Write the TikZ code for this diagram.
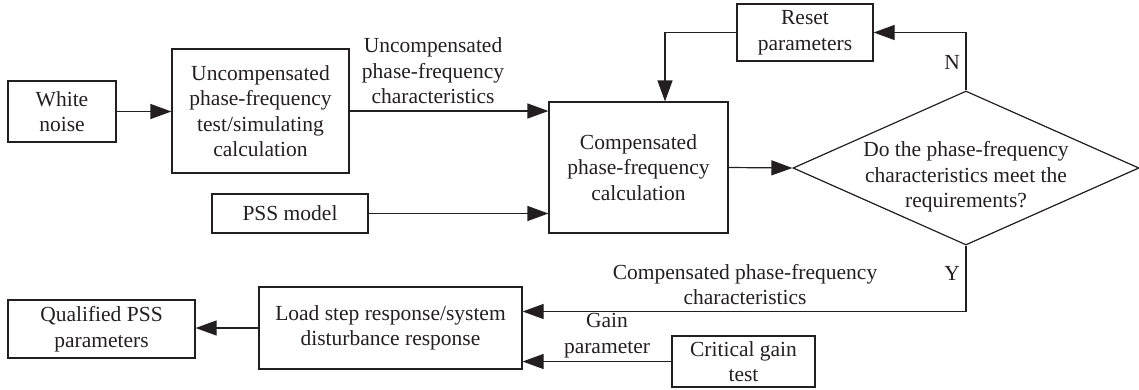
\documentclass[tikz,border=0pt]{standalone}
\usepackage{fontspec}
\setmainfont{Liberation Serif}
\usetikzlibrary{arrows.meta,shapes.geometric}
\definecolor{ink}{HTML}{231F20}
\tikzset{
  base/.style={font=\fontsize{21.5}{25.5}\selectfont, text=ink, align=center},
  box/.style={base, draw=ink, line width=1.2pt, rectangle, inner sep=0pt},
  lbl/.style={base, inner sep=0pt},
  arr/.style={draw=ink, line width=1.2pt, -{Triangle[length=21pt,width=15pt]}},
}
\begin{document}
\begin{tikzpicture}[x=1pt,y=-1pt]
\useasboundingbox (0,0) rectangle (1139,389);
% boxes
\node[box, minimum width=108pt, minimum height=61pt] (wn) at (62,111.5) {White\\noise};
\node[box, minimum width=177pt, minimum height=124pt] (uc) at (260.5,111) {Uncompensated\\phase-frequency\\test/simulating\\calculation};
\node[box, minimum width=156pt, minimum height=39pt] (pss) at (290,213.5) {PSS model};
\node[box, minimum width=179pt, minimum height=131pt] (comp) at (638.5,167.5) {Compensated\\phase-frequency\\calculation};
\node[box, minimum width=136pt, minimum height=57pt] (reset) at (805,32.5) {Reset\\parameters};
\node[draw=ink, line width=1.2pt, diamond, minimum width=346pt, minimum height=154pt, inner sep=0pt] (dia) at (966,168) {};
\node[lbl] (diatext) at (966,177) {Do the phase-frequency\\characteristics meet the\\requirements?};
\node[box, minimum width=263pt, minimum height=82pt] (load) at (390.5,328) {Load step response/system\\disturbance response};
\node[box, minimum width=187pt, minimum height=58pt] (qual) at (101.5,329) {Qualified PSS\\parameters};
\node[box, minimum width=143pt, minimum height=51pt] (crit) at (743.5,361.5) {Critical gain\\test};
% labels
\node[lbl] (l1) at (433,71) {Uncompensated\\phase-frequency\\characteristics};
\node[lbl] (lN) at (952,62) {N};
\node[lbl] (lY) at (952,273) {Y};
\node[lbl] (l2) at (745,284.5) {Compensated phase-frequency\\characteristics};
\node[lbl] (l3) at (607,335.5) {Gain\\parameter};
% connectors
\draw[arr] (wn.east) -- (wn.east -| uc.west);
\draw[arr] (uc.east) -- (uc.east -| comp.west);
\draw[arr] (pss.east) -- (pss.east -| comp.west);
\draw[arr] (comp.east) -- (dia.west);
\draw[arr] (dia.north) |- (reset.east);
\coordinate (rc) at ([xshift=26.5pt]comp.north);
\draw[arr] (reset.west) -| (rc);
\draw[arr] (dia.south) |- ([yshift=16.5pt]load.east);
\draw[arr] (crit.west) -- (crit.west -| load.east);
\draw[arr] (load.west) -- (load.west -| qual.east);
\end{tikzpicture}
\end{document}
